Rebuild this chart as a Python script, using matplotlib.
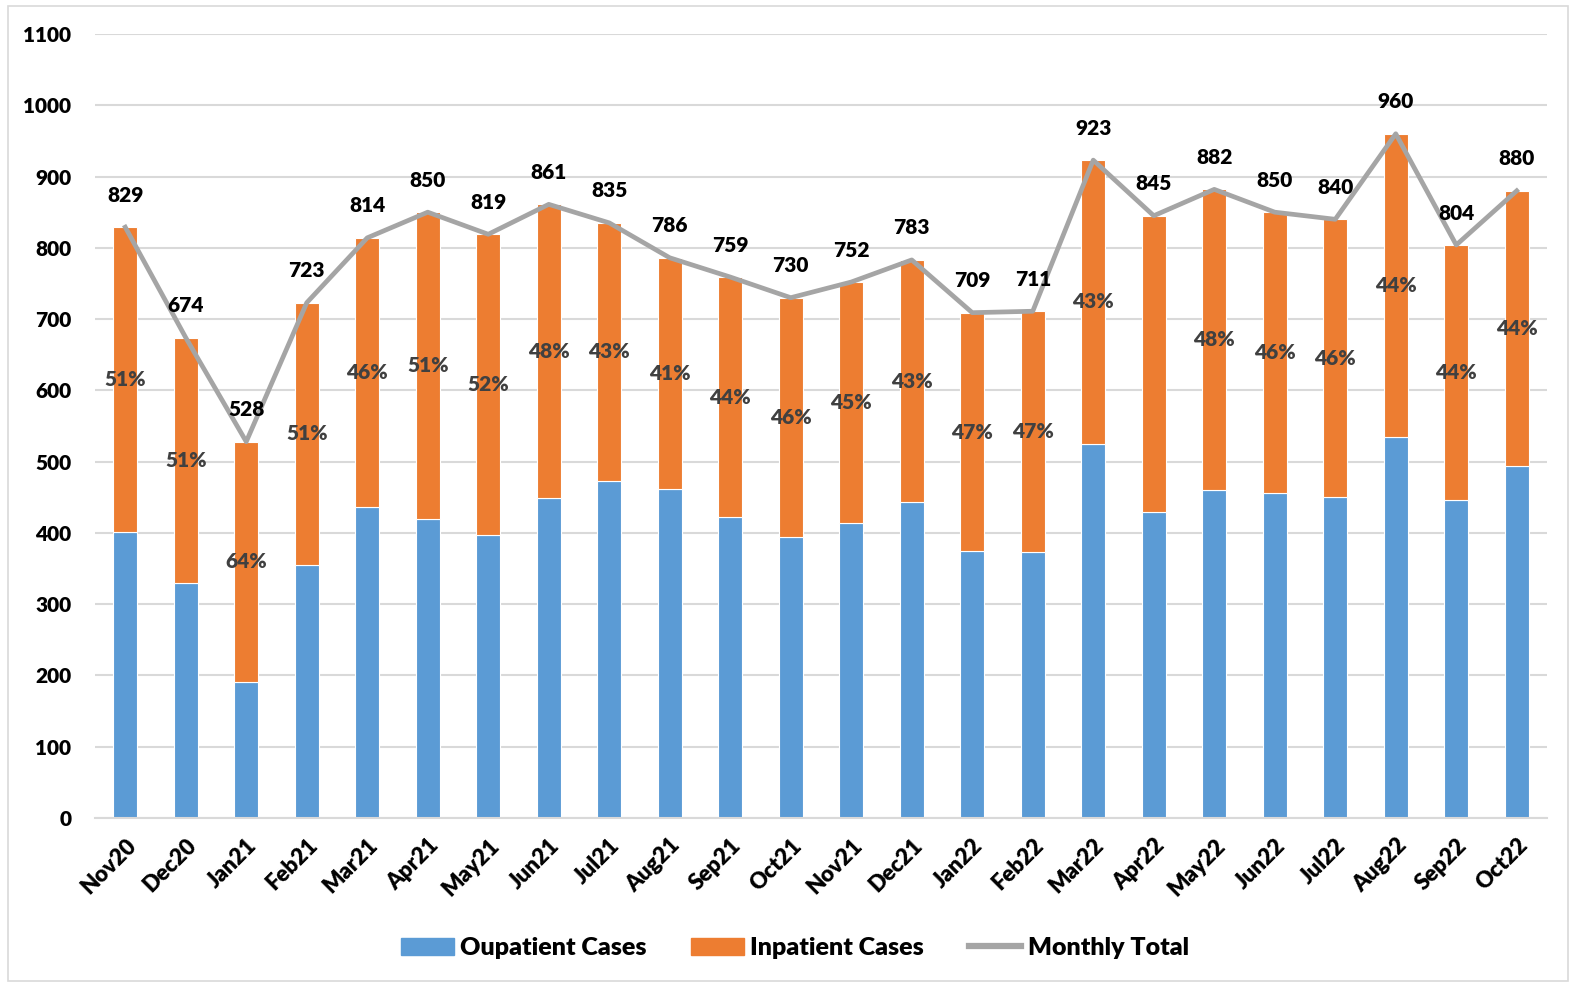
import matplotlib
matplotlib.use("Agg")
import matplotlib.pyplot as plt
from matplotlib.patches import Rectangle
from matplotlib.lines import Line2D
import numpy as np

months = ["Nov20", "Dec20", "Jan21", "Feb21", "Mar21", "Apr21", "May21", "Jun21",
          "Jul21", "Aug21", "Sep21", "Oct21", "Nov21", "Dec21", "Jan22", "Feb22",
          "Mar22", "Apr22", "May22", "Jun22", "Jul22", "Aug22", "Sep22", "Oct22"]
totals = [829, 674, 528, 723, 814, 850, 819, 861, 835, 786, 759, 730, 752, 783,
          709, 711, 923, 845, 882, 850, 840, 960, 804, 880]
outpatient = [401, 330, 191, 355, 436, 419, 397, 449, 473, 461, 422, 394, 414, 443,
              374, 373, 525, 429, 460, 456, 450, 534, 446, 494]
pct_labels = ["51%", "51%", "64%", "51%", "46%", "51%", "52%", "48%", "43%", "41%",
              "44%", "46%", "45%", "43%", "47%", "47%", "43%", "", "48%", "46%",
              "46%", "44%", "44%", "44%"]
yticks = list(range(0, 1101, 100))

inpatient = [t - o for t, o in zip(totals, outpatient)]

plt.rcParams['font.family'] = ['Lato', 'DejaVu Sans']
W = "heavy"

BLUE = "#5B9BD5"
ORANGE = "#ED7D31"
GRAY = "#A5A5A5"

fig = plt.figure(figsize=(15.72, 9.85), dpi=100)
ax = fig.add_axes([95 / 1572, 1 - 818 / 985, (1547 - 95) / 1572, (818 - 34) / 985])

x = np.arange(len(months))
ax.bar(x, outpatient, width=0.4, color=BLUE, edgecolor="white", linewidth=0.8, zorder=2)
ax.bar(x, inpatient, width=0.4, bottom=outpatient, color=ORANGE, edgecolor="white",
       linewidth=0.8, zorder=2)
ax.plot(x, totals, color=GRAY, linewidth=3.4, zorder=3)

for xi, t in zip(x, totals):
    ax.annotate(str(t), (xi, t), xytext=(0, 23), textcoords="offset points",
                ha="center", va="center", fontsize=15, fontweight=W,
                color="black", zorder=4)
for xi, o, t, lab in zip(x, outpatient, totals, pct_labels):
    if lab:
        ax.text(xi, (o + t) / 2, lab, ha="center", va="center", fontsize=15,
                fontweight=W, color="#404040", zorder=4)

ax.set_xlim(-0.5, len(months) - 0.5)
ax.set_ylim(0, 1100)
ax.set_yticks(yticks)
ax.set_yticklabels([str(v) for v in yticks], fontsize=15, fontweight=W)
ax.set_xticks(x)
ax.set_xticklabels(months, fontsize=16, fontweight=W, rotation=45,
                   ha="right", rotation_mode="anchor")
ax.tick_params(axis="y", length=0, pad=17)
ax.tick_params(axis="x", length=0, pad=12)
ax.grid(axis="y", color="#D9D9D9", linewidth=1.5, zorder=0)
ax.set_axisbelow(True)
for s in ["top", "right", "left"]:
    ax.spines[s].set_visible(False)
ax.spines["bottom"].set_color("#D9D9D9")
ax.spines["bottom"].set_linewidth(1.5)

handles = [Rectangle((0, 0), 1, 1, color=BLUE),
           Rectangle((0, 0), 1, 1, color=ORANGE),
           Line2D([0], [0], color=GRAY, linewidth=4.5)]
fig.legend(handles, ["Oupatient Cases", "Inpatient Cases", "Monthly Total"],
           loc="center", bbox_to_anchor=(795 / 1572, 1 - 948 / 985), ncol=3,
           frameon=False, prop={"size": 18, "weight": W},
           handlelength=2.1, handleheight=0.65, columnspacing=1.8, handletextpad=0.25)

fig.patches.append(Rectangle((8 / 1572, 4 / 985), 1560 / 1572, 975 / 985,
                             transform=fig.transFigure, fill=False,
                             edgecolor="#D9D9D9", linewidth=1.2))

fig.savefig("out.png", dpi=100)
